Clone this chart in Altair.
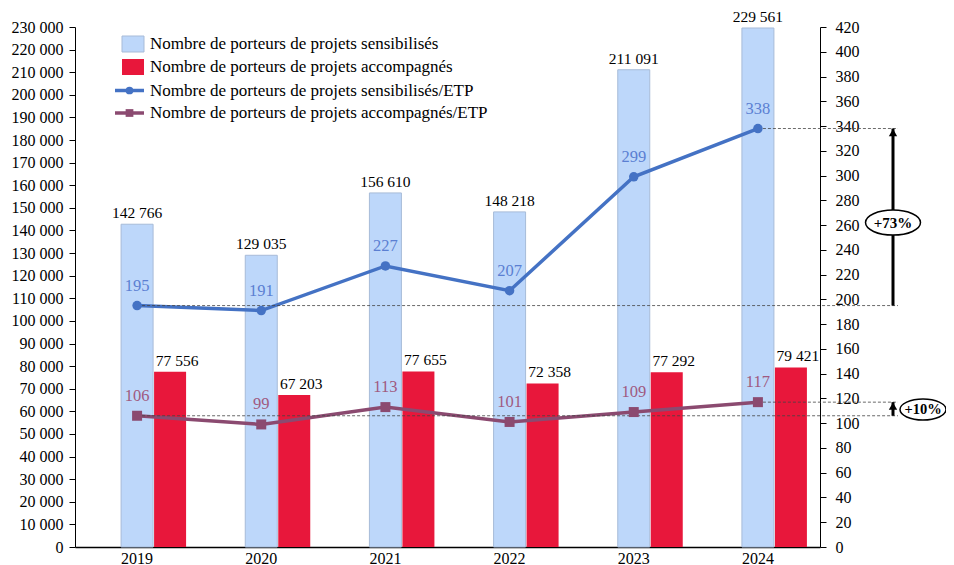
import altair as alt
import pandas as pd

years = ["2019", "2020", "2021", "2022", "2023", "2024"]
sensibilises = [142766, 129035, 156610, 148218, 211091, 229561]
accompagnes = [77556, 67203, 77655, 72358, 77292, 79421]
sens_etp = [195, 191, 227, 207, 299, 338]
acc_etp = [106, 99, 113, 101, 109, 117]

legend_labels = [
    "Nombre de porteurs de projets sensibilisés",
    "Nombre de porteurs de projets accompagnés",
    "Nombre de porteurs de projets sensibilisés/ETP",
    "Nombre de porteurs de projets accompagnés/ETP",
]

# reference lines (year of start, value on right axis)
ref_years = ["2019", "2024", "2019", "2024"]
ref_values = [195, 338, 106, 117]
arrow_low = [195, 106]
arrow_high = [338, 117]
growth_labels = ["+73%", "+10%"]
growth_pos = [262, 111]

FONT = "Liberation Serif"
BLUE_BAR = "#BDD7FA"
RED_BAR = "#E8173B"
BLUE_LINE = "#4472C4"
PURPLE_LINE = "#8B4A70"


def fmt(v):
    return f"{v:,}".replace(",", " ")


df = pd.DataFrame({
    "year": years,
    "sens": sensibilises,
    "acc": accompagnes,
    "sens_lbl": [fmt(v) for v in sensibilises],
    "acc_lbl": [fmt(v) for v in accompagnes],
    "setp": sens_etp,
    "aetp": acc_etp,
})
ref_df = pd.DataFrame({"year": ref_years, "val": ref_values})
arrow_df = pd.DataFrame({"lo": arrow_low, "hi": arrow_high})

xscale = alt.Scale(domain=years, paddingInner=0, paddingOuter=0)
xenc = alt.X("year:N", scale=xscale, title=None,
             axis=alt.Axis(labelAngle=0, ticks=False, labelPadding=3, domainWidth=1.5,
                           labelFontSize=16))
yl_scale = alt.Scale(domain=[0, 230000], nice=False, zero=True)
yr_scale = alt.Scale(domain=[0, 420], nice=False, zero=True)


def yr(field):
    return alt.Y(field, scale=yr_scale, axis=None, title=None)


def yl(field):
    return alt.Y(field, scale=yl_scale, axis=None, title=None)


base = alt.Chart(df)

blue_bars = base.mark_bar(size=32, color=BLUE_BAR, stroke="#A7BBD8", strokeWidth=1).encode(
    x=xenc,
    y=alt.Y("sens:Q", scale=yl_scale, title=None,
            axis=alt.Axis(values=list(range(0, 230001, 10000)), orient="left",
                          labelExpr="replace(format(datum.value, ','), ',', ' ')",
                          tickSize=6, labelPadding=6, labelFontSize=16)),
)
red_bars = base.mark_bar(size=32, xOffset=33, color=RED_BAR).encode(x=xenc, y=yl("acc:Q"))
blue_bar_lbl = base.mark_text(font=FONT, fontSize=15.5, color="black", baseline="bottom", dy=-3).encode(
    x=xenc, y=yl("sens:Q"), text="sens_lbl:N")
red_bar_lbl = base.mark_text(font=FONT, fontSize=15.5, color="black", baseline="bottom", dy=-3,
                             xOffset=40).encode(x=xenc, y=yl("acc:Q"), text="acc_lbl:N")

sens_line = base.mark_line(color=BLUE_LINE, strokeWidth=3.5).encode(
    x=xenc,
    y=alt.Y("setp:Q", scale=yr_scale, title=None,
            axis=alt.Axis(values=list(range(0, 421, 20)), orient="right", tickSize=6,
                          labelPadding=9, labelFontSize=16)))
acc_line = base.mark_line(color=PURPLE_LINE, strokeWidth=3.5).encode(x=xenc, y=yr("aetp:Q"))

rules = alt.Chart(ref_df).mark_rule(color="#444444", strokeDash=[3, 2], strokeWidth=0.8).encode(
    x=xenc, x2=alt.value(823), y=yr("val:Q"))

sens_pts = base.mark_point(shape="circle", filled=True, opacity=1, size=90, color=BLUE_LINE).encode(
    x=xenc, y=yr("setp:Q"))
acc_pts = base.mark_point(shape="square", filled=True, opacity=1, size=100, color=PURPLE_LINE).encode(
    x=xenc, y=yr("aetp:Q"))
sens_lbl = base.mark_text(font=FONT, fontSize=16.5, color="#5B7FD2", dy=-20).encode(
    x=xenc, y=yr("setp:Q"), text="setp:Q")
acc_lbl = base.mark_text(font=FONT, fontSize=16.5, color="#A05A80", dy=-20).encode(
    x=xenc, y=yr("aetp:Q"), text="aetp:Q")

arrow_shaft = alt.Chart(arrow_df).mark_rule(color="black", strokeWidth=3).encode(
    x=alt.value(818), y=yr("lo:Q"), y2="hi:Q")
arrow_head = alt.Chart(arrow_df).mark_point(shape="triangle-up", filled=True, opacity=1,
                                            color="black", size=70, yOffset=4).encode(
    x=alt.value(818), y=yr("hi:Q"))

ellipse_path = "M -1.1 0 A 1.1 0.5 0 1 0 1.1 0 A 1.1 0.5 0 1 0 -1.1 0 Z"
g73 = pd.DataFrame({"t": [growth_labels[0]], "v": [growth_pos[0]]})
g10 = pd.DataFrame({"t": [growth_labels[1]], "v": [growth_pos[1]]})
ell73 = alt.Chart(g73).mark_point(shape=ellipse_path, filled=False, fill="white", fillOpacity=1,
                                  stroke="black", strokeWidth=1.5, size=2500, opacity=1).encode(
    x=alt.value(818), y=yr("v:Q"))
txt73 = alt.Chart(g73).mark_text(font=FONT, fontSize=15, fontWeight="bold", color="black").encode(
    x=alt.value(818), y=yr("v:Q"), text="t:N")
ell10 = alt.Chart(g10).mark_point(shape=ellipse_path, filled=False, fill="white", fillOpacity=1,
                                  stroke="black", strokeWidth=1.5, size=1750, opacity=1).encode(
    x=alt.value(848), y=yr("v:Q"))
txt10 = alt.Chart(g10).mark_text(font=FONT, fontSize=14.5, fontWeight="bold", color="black").encode(
    x=alt.value(848), y=yr("v:Q"), text="t:N")

# manual legend
leg_rows = [17, 40, 63.5, 86]
leg = []
for i, color in enumerate([BLUE_BAR, RED_BAR]):
    props = dict(color=color)
    if i == 0:
        props.update(stroke="#A7BBD8", strokeWidth=1)
    leg.append(alt.Chart(pd.DataFrame({"a": [0]})).mark_rect(**props).encode(
        x=alt.value(47), x2=alt.value(69),
        y=alt.value(leg_rows[i] - 8), y2=alt.value(leg_rows[i] + 8)))
for i, (color, shape) in enumerate([(BLUE_LINE, "circle"), (PURPLE_LINE, "square")]):
    r = leg_rows[i + 2]
    leg.append(alt.Chart(pd.DataFrame({"a": [0]})).mark_rule(color=color, strokeWidth=3.5).encode(
        x=alt.value(40), x2=alt.value(69), y=alt.value(r)))
    leg.append(alt.Chart(pd.DataFrame({"a": [0]})).mark_point(
        shape=shape, filled=True, opacity=1, color=color, size=60).encode(
        x=alt.value(54.5), y=alt.value(r)))
for i, lab in enumerate(legend_labels):
    leg.append(alt.Chart(pd.DataFrame({"t": [lab]})).mark_text(
        font=FONT, fontSize=17, color="black", align="left", baseline="middle").encode(
        x=alt.value(75), y=alt.value(leg_rows[i]), text="t:N"))

chart = alt.layer(
    blue_bars, red_bars, blue_bar_lbl, red_bar_lbl,
    sens_line, acc_line, rules, sens_pts, acc_pts, sens_lbl, acc_lbl,
    arrow_shaft, arrow_head, ell73, txt73, ell10, txt10, *leg
).resolve_scale(y="independent").properties(
    width=745, height=520,
    autosize=alt.AutoSizeParams(type="none"),
    padding={"left": 67, "top": 19, "right": 126, "bottom": 20},
).configure_axis(
    labelFont=FONT, labelFontSize=15, labelColor="black",
    domainColor="black", tickColor="black", grid=False,
).configure_view(stroke=None)

chart.save("out.html", embed_options={"renderer": "svg", "actions": False})
